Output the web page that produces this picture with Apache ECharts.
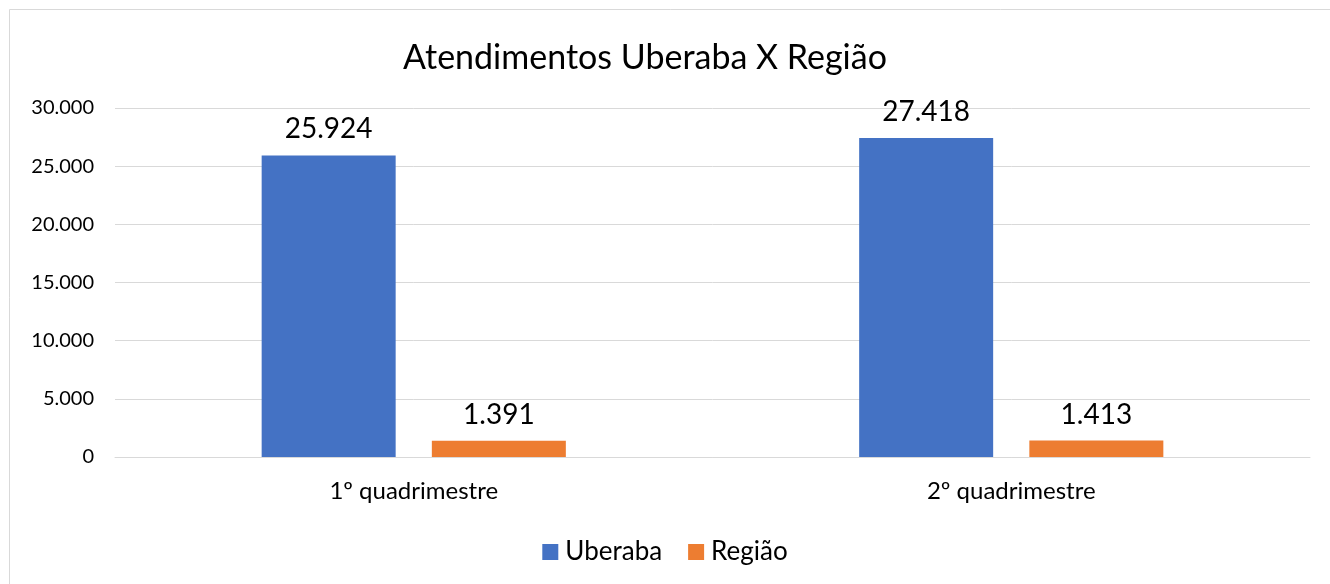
<!DOCTYPE html>
<html>
<head>
<meta charset="utf-8">
<script src="https://cdn.jsdelivr.net/npm/echarts@6/dist/echarts.min.js"></script>
<style>
  html, body { margin: 0; padding: 0; background: #fff; }
  #chart { width: 1330px; height: 584px; }
</style>
</head>
<body>
<div id="chart"></div>
<script>
const categories = ['1º quadrimestre', '2º quadrimestre']
const seriesNames = ['Uberaba', 'Região']
const uberaba = [25924, 27418]
const regiao = [1391, 1413]

const FONT = 'Lato, "Noto Sans", sans-serif'

// 25924 -> "25.924"
const fmt = v => String(v).replace(/\B(?=(\d{3})+(?!\d))/g, '.')

const chart = echarts.init(document.getElementById('chart'))

const barLabel = {
  show: true,
  position: 'top',
  distance: 12,
  fontFamily: FONT,
  fontSize: 28,
  color: '#000',
  formatter: p => fmt(p.value)
}

chart.setOption({
  backgroundColor: '#fff',
  color: ['#4472C4', '#ED7D31'],
  graphic: [{
    type: 'rect',
    shape: { x: 9.5, y: 9.5, width: 1340, height: 600 },
    style: { fill: 'none', stroke: '#d9d9d9', lineWidth: 1 },
    silent: true
  }],
  title: {
    text: 'Atendimentos Uberaba X Região',
    left: 640,
    top: 36,
    textAlign: 'center',
    textStyle: { fontFamily: FONT, fontSize: 34, fontWeight: 'normal', color: '#000' }
  },
  legend: {
    data: seriesNames,
    left: 'center',
    top: 534,
    itemWidth: 16,
    itemHeight: 16,
    itemGap: 26,
    icon: 'rect',
    textStyle: { fontFamily: FONT, fontSize: 26, color: '#000', padding: [0, 0, 0, 2] }
  },
  grid: { left: 115, right: 20, top: 108, bottom: 127 },
  xAxis: {
    type: 'category',
    data: categories,
    axisLine: { lineStyle: { color: '#d9d9d9', width: 1 } },
    axisTick: { show: false },
    axisLabel: { fontFamily: FONT, fontSize: 24, color: '#000', margin: 22 }
  },
  yAxis: {
    type: 'value',
    min: 0,
    max: 30000,
    interval: 5000,
    axisLine: { show: false },
    axisTick: { show: false },
    splitLine: { lineStyle: { color: '#d9d9d9', width: 1 } },
    axisLabel: { fontFamily: FONT, fontSize: 20, color: '#000', margin: 21, formatter: fmt }
  },
  series: [
    { name: seriesNames[0], type: 'bar', data: uberaba, barWidth: 134, barGap: '27%', label: barLabel },
    { name: seriesNames[1], type: 'bar', data: regiao, barWidth: 134, barGap: '27%', label: barLabel }
  ]
})
</script>
</body>
</html>
